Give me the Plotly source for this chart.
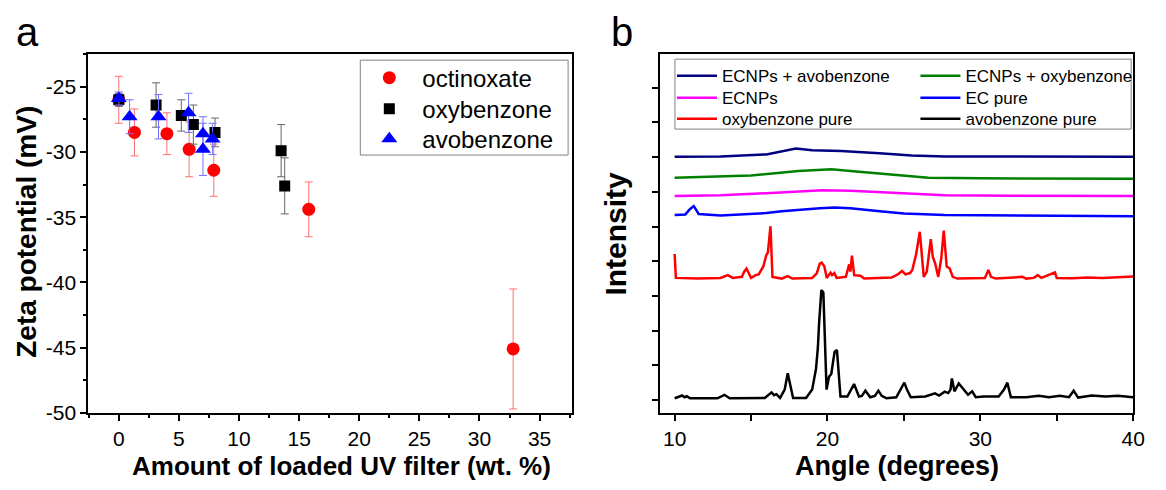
import plotly.graph_objects as go

# ---------------- Panel a data: zeta potential vs loading ----------------
oct_x = [0, 1.3, 4.0, 5.85, 7.9, 15.8, 32.8]
oct_y = [-26.0, -28.5, -28.6, -29.8, -31.4, -34.4, -45.1]
oct_err = [1.8, 1.8, 1.6, 2.1, 2.0, 2.1, 4.6]

oxy_x = [0, 3.1, 5.2, 6.2, 8.0, 13.5, 13.8]
oxy_y = [-26.0, -26.4, -27.2, -27.9, -28.5, -29.9, -32.6]
oxy_err = [0.5, 1.7, 1.2, 1.5, 1.1, 2.0, 2.15]

avo_x = [0, 0.9, 3.3, 5.8, 7.0, 7.0, 7.8]
avo_y = [-25.9, -27.3, -27.3, -27.0, -28.6, -29.8, -29.0]
avo_err = [0.5, 1.3, 1.7, 1.5, 1.3, 2.0, 1.2]

a_xticks = [0, 5, 10, 15, 20, 25, 30, 35]
a_yticks = [-50, -45, -40, -35, -30, -25]
a_yticktext = ["-50", "-45", "-40", "-35", "-30", "-25"]

# ---------------- Panel b data: XRD patterns (offset, a.u.) ----------------
avo_pure_ang = [10.0, 10.3, 10.5, 10.65, 10.8, 11.0, 12.8, 13.26, 13.6, 15.9, 16.34, 16.5, 16.66,
                16.9, 17.2, 17.4, 17.55, 17.75, 18.6, 19.0, 19.25, 19.37, 19.45, 19.6, 19.73, 19.85,
                19.94, 20.1, 20.25, 20.4, 20.47, 20.62, 20.75, 20.85, 21.3, 21.74, 22.06, 22.25, 22.48,
                22.8, 23.1, 23.33, 23.55, 23.86, 24.5, 24.8, 25.03, 25.2, 25.45, 26.4, 26.7, 27.04,
                27.3, 27.67, 27.9, 28.05, 28.14, 28.31, 28.59, 28.95, 29.2, 29.47, 29.7, 30.22, 31.2,
                31.55, 31.77, 32.0, 33.0, 33.82, 34.5, 35.2, 35.8, 36.11, 36.4, 37.3, 38.2, 39.0, 40.0]
avo_pure_int = [0.05, 0.10, 0.13, 0.08, 0.11, 0.05, 0.05, 0.15, 0.05, 0.06, 0.22, 0.14, 0.17,
                0.06, 0.30, 0.77, 0.50, 0.06, 0.06, 0.30, 0.90, 1.50, 2.20, 3.17, 3.10, 1.50,
                0.30, 0.67, 0.75, 1.20, 1.39, 1.44, 0.80, 0.10, 0.10, 0.46, 0.10, 0.12, 0.27,
                0.08, 0.12, 0.27, 0.12, 0.05, 0.08, 0.30, 0.50, 0.30, 0.08, 0.10, 0.14, 0.19,
                0.13, 0.24, 0.20, 0.30, 0.62, 0.25, 0.48, 0.29, 0.15, 0.25, 0.08, 0.10, 0.10,
                0.30, 0.50, 0.08, 0.08, 0.12, 0.08, 0.12, 0.08, 0.27, 0.07, 0.13, 0.10, 0.12, 0.08]

oxy_pure_ang = [10.0, 10.08, 11.5, 13.0, 13.48, 13.8, 14.4, 14.55, 14.7, 14.85, 15.0, 15.3, 15.5,
                15.8, 16.0, 16.1, 16.27, 16.4, 17.0, 17.4, 17.7, 19.0, 19.3, 19.5, 19.62, 19.8, 19.95,
                20.2, 20.3, 20.45, 20.6, 21.2, 21.42, 21.5, 21.6, 21.75, 22.16, 22.4, 24.2, 24.6,
                24.88, 25.1, 25.4, 25.55, 25.8, 26.04, 26.2, 26.3, 26.5, 26.76, 26.89, 27.04, 27.25,
                27.45, 27.61, 27.8, 28.0, 28.2, 28.5, 30.3, 30.53, 30.7, 31.0, 32.76, 33.0, 33.5,
                33.76, 34.0, 34.88, 35.0, 36.0, 37.0, 38.0, 39.0, 40.0]
oxy_pure_int = [4.21, 3.52, 3.50, 3.52, 3.60, 3.52, 3.55, 3.70, 3.79, 3.65, 3.52, 3.60, 3.62,
                3.85, 4.18, 4.25, 5.01, 3.55, 3.50, 3.57, 3.50, 3.52, 3.65, 3.93, 3.96, 3.85, 3.52,
                3.67, 3.60, 3.66, 3.52, 3.55, 3.91, 3.70, 4.16, 3.60, 3.58, 3.50, 3.53, 3.62,
                3.72, 3.62, 3.66, 3.75, 4.20, 4.85, 4.00, 3.55, 3.70, 4.64, 4.13, 3.95, 3.55,
                4.10, 4.88, 3.85, 3.79, 3.55, 3.50, 3.52, 3.75, 3.55, 3.50, 3.55, 3.50, 3.52,
                3.60, 3.52, 3.68, 3.52, 3.51, 3.53, 3.52, 3.54, 3.56]

ec_pure_ang = [10.0, 10.7, 11.0, 11.25, 11.45, 11.57, 13.0, 14.5, 16.0, 17.0, 18.14, 19.5, 20.47,
               21.5, 23.43, 25.0, 27.67, 30.0, 35.0, 40.0]
ec_pure_int = [5.33, 5.35, 5.50, 5.59, 5.45, 5.36, 5.32, 5.35, 5.39, 5.44, 5.49, 5.53, 5.55,
               5.53, 5.44, 5.38, 5.33, 5.32, 5.31, 5.30]

ecnp_ang = [10.0, 13.0, 16.0, 18.0, 19.65, 21.5, 23.4, 25.5, 27.7, 32.0, 40.0]
ecnp_int = [5.88, 5.90, 5.96, 6.02, 6.05, 6.03, 5.99, 5.93, 5.90, 5.89, 5.88]

ecnp_oxy_ang = [10.0, 13.0, 15.0, 18.1, 20.26, 21.5, 23.4, 26.6, 30.0, 35.0, 40.0]
ecnp_oxy_int = [6.41, 6.44, 6.47, 6.60, 6.65, 6.60, 6.53, 6.41, 6.39, 6.39, 6.38]

ecnp_avo_ang = [10.0, 13.0, 16.0, 17.93, 19.0, 20.9, 23.4, 25.5, 27.7, 32.0, 40.0]
ecnp_avo_int = [7.01, 7.02, 7.08, 7.25, 7.20, 7.18, 7.11, 7.05, 7.02, 7.01, 7.01]

b_xticks = [10, 15, 20, 25, 30, 35, 40]
b_xticktext = ["10", "", "20", "", "30", "", "40"]
b_yticks = [0, 1, 2, 3, 4, 5, 6, 7, 8, 9]

FONT = "Liberation Sans, Arial, sans-serif"
OFF = 8                      # default page body margin
SY = 0.978                   # observed vertical page-to-picture factor
W, H = 1166 - 2 * OFF, 483


def px(v):
    return (v - OFF) / W


def py(v):
    return 1 - (v / SY - OFF) / H


fig = go.Figure()

# ----- panel a traces (one single-entry legend each, to control row spacing) -----
def err(arr, color):
    return dict(type="data", array=arr, visible=True, color=color, thickness=1, width=4)

a_series = [
    ("octinoxate", oct_x, oct_y, oct_err, "circle", 13, "#ff0000", "#ff7070", "legend", 78),
    ("oxybenzone", oxy_x, oxy_y, oxy_err, "square", 11, "#000000", "#666666", "legend4", 109),
    ("avobenzone", avo_x, avo_y, avo_err, "triangle-up", 14, "#0000ff", "#7070ff", "legend5", 139),
]
legends = {}
for name, xs, ys, es, sym, sz, col, ecol, leg, row in a_series:
    fig.add_trace(go.Scatter(x=xs, y=ys, mode="markers", name=name,
                             marker=dict(symbol=sym, size=sz, color=col),
                             error_y=err(es, ecol), xaxis="x", yaxis="y", legend=leg))
    legends[leg] = dict(x=px(360), y=py(row), xanchor="left", yanchor="middle",
                        bgcolor="rgba(0,0,0,0)", borderwidth=0, itemwidth=56,
                        font=dict(family=FONT, size=24, color="black"))

# ----- panel b traces -----
b_series = [
    ("ECNPs + avobenzone", ecnp_avo_ang, ecnp_avo_int, "#000080", "legend2", 679, 76),
    ("ECNPs + oxybenzone", ecnp_oxy_ang, ecnp_oxy_int, "#008000", "legend3", 925, 76),
    ("ECNPs", ecnp_ang, ecnp_int, "#ff00ff", "legend6", 679, 98),
    ("EC pure", ec_pure_ang, ec_pure_int, "#0000ff", "legend7", 925, 98),
    ("oxybenzone pure", oxy_pure_ang, oxy_pure_int, "#ff0000", "legend8", 679, 119),
    ("avobenzone pure", avo_pure_ang, avo_pure_int, "#000000", "legend9", 925, 119),
]
for name, xs, ys, col, leg, lx, row in b_series:
    fig.add_trace(go.Scatter(x=xs, y=ys, mode="lines", name=name,
                             line=dict(color=col, width=2.5),
                             xaxis="x2", yaxis="y2", legend=leg))
    legends[leg] = dict(x=px(lx), y=py(row), xanchor="left", yanchor="middle",
                        bgcolor="rgba(0,0,0,0)", borderwidth=0, itemwidth=40,
                        font=dict(family=FONT, size=17, color="black"))

axis_common = dict(showline=True, linecolor="black", linewidth=1.5, mirror=True,
                   ticks="outside", tickcolor="black", tickwidth=1.5, ticklen=6,
                   showgrid=False, zeroline=False,
                   tickfont=dict(family=FONT, size=21, color="black"))

fig.update_layout(
    width=W, height=H,
    margin=dict(l=0, r=0, t=0, b=0),
    paper_bgcolor="white", plot_bgcolor="white",
    font=dict(family=FONT, color="black"),
    xaxis=dict(domain=[px(89), px(578)], range=[-2.55, 37.7], anchor="y",
               tickmode="array", tickvals=a_xticks,
               minor=dict(tickmode="linear", tick0=2.5, dtick=5, ticks="outside",
                          ticklen=3, tickwidth=1.5, tickcolor="black"),
               **axis_common),
    yaxis=dict(domain=[py(413), py(54)], range=[-50, -22.5], anchor="x",
               tickmode="array", tickvals=a_yticks, ticktext=a_yticktext,
               minor=dict(tickmode="linear", tick0=-47.5, dtick=5, ticks="outside",
                          ticklen=3, tickwidth=1.5, tickcolor="black"),
               **axis_common),
    xaxis2=dict(domain=[px(667), px(1145)], range=[9.05, 40], anchor="y2",
                tickmode="array", tickvals=b_xticks, ticktext=b_xticktext,
                **axis_common),
    yaxis2=dict(domain=[py(413), py(54)], range=[-0.37, 9.97], anchor="x2",
                tickmode="array", tickvals=b_yticks, showticklabels=False,
                **axis_common),
    showlegend=True,
    shapes=[
        dict(type="rect", xref="paper", yref="paper", x0=px(364), x1=px(574),
             y0=py(155), y1=py(60), line=dict(color="#808080", width=1),
             fillcolor="white", layer="above"),
        dict(type="rect", xref="paper", yref="paper", x0=px(682), x1=px(1143),
             y0=py(129), y1=py(59), line=dict(color="#808080", width=1),
             fillcolor="white", layer="above"),
    ],
    **legends,
)

annots = [
    dict(text="<b>Zeta potential (mV)</b>", x=px(27), y=py(232), textangle=-90,
         font=dict(size=28)),
    dict(text="<b>Amount of loaded UV filter (wt. %)</b>", x=px(345), y=py(466),
         font=dict(size=26)),
    dict(text="<b>Intensity</b>", x=px(622), y=py(234), textangle=-90,
         font=dict(size=30)),
    dict(text="<b>Angle (degrees)</b>", x=px(906), y=py(466),
         font=dict(size=27)),
    dict(text="a", x=px(28), y=py(32), font=dict(size=40)),
    dict(text="b", x=px(628), y=py(32), font=dict(size=40)),
]
for a in annots:
    a.update(xref="paper", yref="paper", showarrow=False, xanchor="center", yanchor="middle")
    a["font"].update(family=FONT, color="black")
    fig.add_annotation(**a)

fig.write_html("out.html", config={"displayModeBar": False})
